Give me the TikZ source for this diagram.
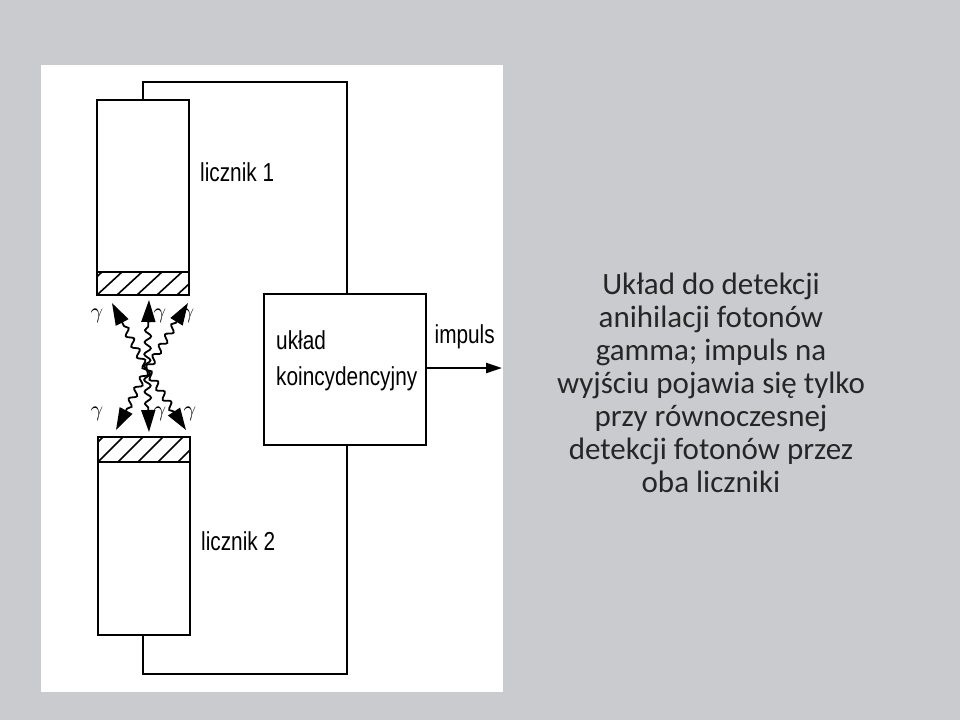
\documentclass[tikz,border=0pt]{standalone}
\usepackage{fontspec}
\setmainfont{Carlito}
\newfontfamily\diagfont[FakeStretch=0.8]{Liberation Sans}
\usetikzlibrary{arrows.meta,decorations.pathmorphing}
\definecolor{slidegray}{HTML}{C9CBCE}
\newcommand{\hatchband}[4]{%
  \begin{scope}
    \clip (#1,#2) rectangle (#3,#4);
    \foreach \hx in {-20,0,...,200} \draw[line width=0.8pt] (#1+\hx,#4) -- ++(25,#2-#4);
  \end{scope}
  \draw (#1,#2) rectangle (#3,#4);}
\begin{document}
\begin{tikzpicture}[x=0.5pt, y=-0.5pt, line width=1.2pt,
  counter/.style={draw, fill=white},
  label/.style={font=\diagfont\fontsize{13}{14}\selectfont, inner sep=0pt},
  gamma/.style={font=\fontsize{11}{12}\selectfont, inner sep=0pt},
  ray/.style={decorate, decoration={snake, amplitude=1.6pt, segment length=6pt, post length=11pt}, line width=0.9pt,
    -{Triangle[length=11pt, width=7pt]}}]
\fill[slidegray] (0,0) rectangle (960,720);
\useasboundingbox (0,0) rectangle (960,720);
\fill[white] (41,65) rectangle (503,692);

% liczniki
\draw[counter] (97,100) rectangle (189,295);
\hatchband{97}{272}{189}{295}
\draw[counter] (98,437) rectangle (190,635);
\hatchband{98}{437}{190}{462}
\coordinate (c1top) at (143,100);
\coordinate (c2bot) at (143,635);
\node[label, anchor=west] (l1) at (199,172) {licznik 1};
\node[label, anchor=west] (l2) at (200,541) {licznik 2};

% uklad koincydencyjny
\node[draw, minimum width=81pt, minimum height=75.5pt, anchor=north west, inner sep=0pt] (coinc) at (263,293) {};
\node[label, anchor=west, align=left] (coinctext) at (275,361) {układ\\[4pt]koincydencyjny};
\draw (c1top) -- (143,82) -| (coinc.north -| 347,0);
\draw (c2bot) -- (143,674) -| (coinc.south -| 347,0);
\coordinate (out) at (502,368);
\draw[-{Triangle[length=8pt, width=5pt]}] (coinc.east |- out) -- node[label, above=9pt, pos=0.5] {impuls} (out);

% kwanty gamma
\coordinate (src) at (147,370);
\foreach \tx/\ty in {112/303, 149/300, 188/303, 116/430, 149/432, 186/430}
  \draw[ray] (src) -- (\tx,\ty);
\foreach \gx/\gy in {97/316, 160/316, 188/316, 97/414, 160/414, 190/414}
  \node[gamma] at (\gx,\gy) {$\gamma$};

% opis
\node[align=center, font=\fontsize{15.5}{16.5}\selectfont, text=black!85] (desc) at (711,383)
  {Układ do detekcji\\anihilacji fotonów\\gamma; impuls na\\wyjściu pojawia się tylko\\przy równoczesnej\\detekcji fotonów przez\\oba liczniki};
\end{tikzpicture}
\end{document}
